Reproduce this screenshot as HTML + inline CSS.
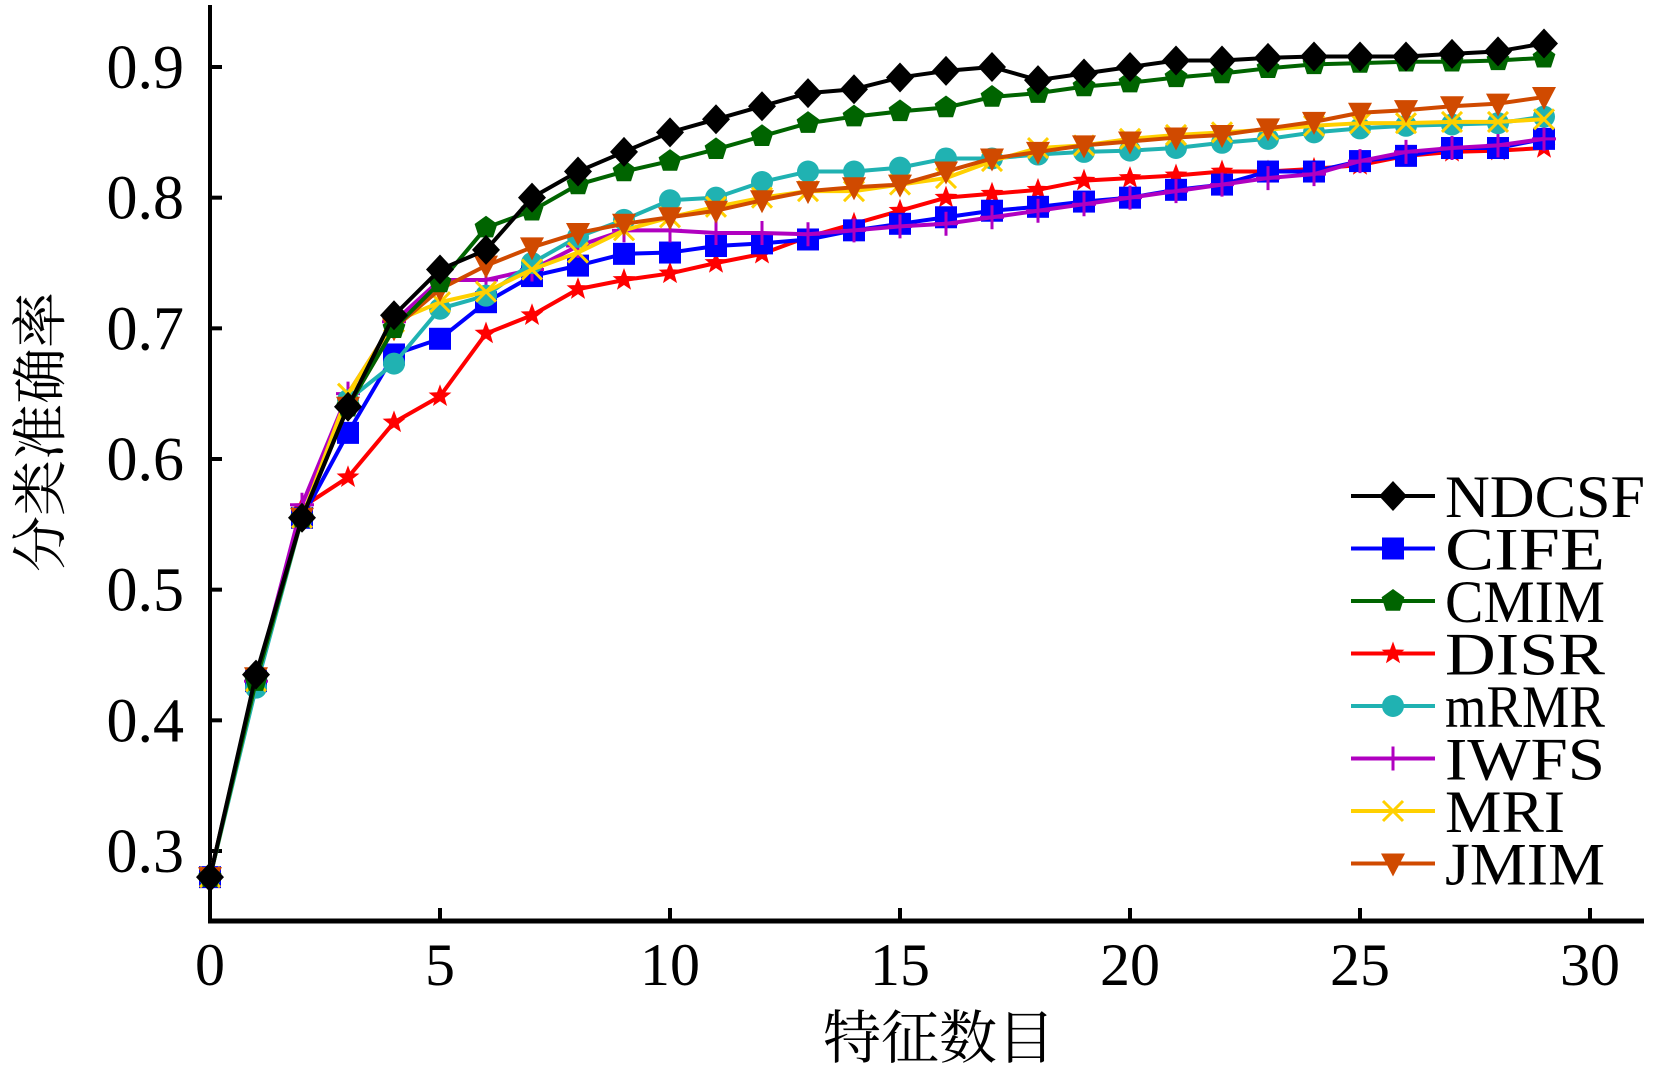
<!DOCTYPE html>
<html><head><meta charset="utf-8"><style>
html,body{margin:0;padding:0;background:#fff;}
svg{display:block;}
text{font-family:"Liberation Serif","Noto Serif CJK SC",serif;fill:#000;}
</style></head><body>
<svg id="chart" width="1656" height="1075" viewBox="0 0 1656 1075" xmlns="http://www.w3.org/2000/svg">
<g id="axes"></g>
<g id="series"></g>
<g id="legend"></g>
<text x="0" y="0" font-size="56" text-anchor="middle" transform="translate(60,432) rotate(-90)" style="font-family:'Liberation Serif','Noto Serif CJK SC',serif">分类准确率</text>
<text x="939" y="1058" font-size="58" text-anchor="middle" style="font-family:'Liberation Serif','Noto Serif CJK SC',serif">特征数目</text>
</svg>
<script>
const xTicks = [0,5,10,15,20,25,30];
const yTicks = [0.3,0.4,0.5,0.6,0.7,0.8,0.9];
const yTickLabels = ["0.3","0.4","0.5","0.6","0.7","0.8","0.9"];
const seriesNames = ["NDCSF","CIFE","CMIM","DISR","mRMR","IWFS","MRI","JMIM"];
const NDCSF = [0.28,0.435,0.555,0.64,0.71,0.745,0.76,0.80,0.82,0.835,0.85,0.86,0.87,0.88,0.883,0.892,0.897,0.90,0.89,0.895,0.90,0.905,0.905,0.907,0.908,0.908,0.908,0.91,0.912,0.918];
const CIFE = [0.28,0.43,0.555,0.62,0.68,0.692,0.72,0.74,0.748,0.757,0.758,0.763,0.765,0.768,0.775,0.78,0.785,0.79,0.793,0.797,0.80,0.806,0.81,0.82,0.82,0.828,0.832,0.838,0.838,0.845];
const CMIM = [0.28,0.43,0.555,0.64,0.70,0.735,0.777,0.79,0.81,0.82,0.828,0.837,0.847,0.857,0.862,0.866,0.869,0.877,0.88,0.885,0.888,0.892,0.895,0.899,0.902,0.903,0.904,0.904,0.905,0.907];
const DISR = [0.28,0.43,0.563,0.586,0.628,0.648,0.696,0.71,0.73,0.737,0.742,0.75,0.757,0.77,0.78,0.79,0.80,0.803,0.806,0.813,0.815,0.817,0.82,0.82,0.822,0.825,0.832,0.835,0.836,0.838];
const mRMR = [0.28,0.425,0.555,0.645,0.673,0.715,0.725,0.75,0.77,0.783,0.798,0.80,0.812,0.82,0.82,0.823,0.83,0.83,0.833,0.835,0.836,0.838,0.842,0.845,0.85,0.853,0.855,0.856,0.857,0.862];
const IWFS = [0.28,0.43,0.565,0.65,0.705,0.737,0.737,0.745,0.763,0.775,0.775,0.773,0.773,0.772,0.775,0.778,0.78,0.785,0.79,0.795,0.80,0.805,0.81,0.815,0.818,0.828,0.835,0.838,0.84,0.845];
const MRI = [0.28,0.43,0.555,0.65,0.705,0.72,0.728,0.745,0.758,0.775,0.785,0.793,0.80,0.805,0.805,0.81,0.815,0.828,0.838,0.84,0.845,0.848,0.85,0.852,0.855,0.857,0.857,0.858,0.858,0.86];
const JMIM = [0.28,0.433,0.555,0.64,0.70,0.73,0.748,0.762,0.773,0.78,0.785,0.79,0.798,0.805,0.808,0.81,0.82,0.83,0.835,0.84,0.843,0.846,0.848,0.853,0.858,0.865,0.867,0.87,0.872,0.877];

const NS = "http://www.w3.org/2000/svg";
const X0 = 210, X30 = 1590, Y03 = 851, Y09 = 67, AXY = 921;
function sx(v){ return X0 + (X30 - X0) * v / 30; }
function sy(v){ return Y03 + (Y09 - Y03) * (v - 0.3) / 0.6; }
function mk(tag, attrs, parent){ const e = document.createElementNS(NS, tag); for (const k in attrs) e.setAttribute(k, attrs[k]); parent.appendChild(e); return e; }

const axes = document.getElementById('axes');
let yl = mk('line', {x1:X0, y1:5, x2:X0, y2:AXY+2, stroke:'#000','stroke-width':4}, axes);


let xl = mk('line', {x1:X0-2, y1:AXY, x2:1644, y2:AXY, stroke:'#000','stroke-width':5}, axes);


yTicks.forEach((v, i) => {
  const t = mk('line', {x1:X0, y1:sy(v), x2:X0+12, y2:sy(v), stroke:'#000','stroke-width':4}, axes);
  
  
  const l = mk('text', {x:184, y:sy(v)+21, 'font-size':62, 'text-anchor':'end'}, axes);
  l.textContent = yTickLabels[i];
  
  
});
xTicks.forEach(v => {
  const t = mk('line', {x1:sx(v), y1:AXY, x2:sx(v), y2:AXY-13, stroke:'#000','stroke-width':4}, axes);
  
  
  const l = mk('text', {x:sx(v), y:985, 'font-size':60, 'text-anchor':'middle'}, axes);
  l.textContent = String(v);
  
  
});

const seriesData = [NDCSF, CIFE, CMIM, DISR, mRMR, IWFS, MRI, JMIM];
const colors = ['#000000','#0000ff','#006400','#ff0000','#20b2b2','#b000c0','#ffd000','#d04a00'];
const shapes = ['diamond','square','pentagon','star','circle','plus','cross','tri'];

function marker(g, shape, x, y, c, s){
  let e;
  if (shape === 'diamond') e = mk('polygon', {points:`${x},${y-15} ${x+14},${y} ${x},${y+15} ${x-14},${y}`, fill:c}, g);
  else if (shape === 'square') e = mk('rect', {x:x-11, y:y-11, width:22, height:22, fill:c}, g);
  else if (shape === 'circle') e = mk('circle', {cx:x, cy:y, r:11, fill:c}, g);
  else if (shape === 'pentagon') { let p=[]; for(let k=0;k<5;k++){const a=-Math.PI/2+k*2*Math.PI/5; p.push((x+12*Math.cos(a))+','+(y+12*Math.sin(a)));} e = mk('polygon', {points:p.join(' '), fill:c}, g); }
  else if (shape === 'star') { let p=[]; for(let k=0;k<10;k++){const a=-Math.PI/2+k*Math.PI/5; const r=k%2?5:12; p.push((x+r*Math.cos(a))+','+(y+r*Math.sin(a)));} e = mk('polygon', {points:p.join(' '), fill:c}, g); }
  else if (shape === 'plus') e = mk('path', {d:`M${x-12},${y}H${x+12}M${x},${y-12}V${y+12}`, stroke:c, 'stroke-width':3, fill:'none'}, g);
  else if (shape === 'cross') e = mk('path', {d:`M${x-10},${y-10}L${x+10},${y+10}M${x-10},${y+10}L${x+10},${y-10}`, stroke:c, 'stroke-width':3, fill:'none'}, g);
  else e = mk('polygon', {points:`${x-12},${y-10} ${x+12},${y-10} ${x},${y+13}`, fill:c}, g);
  return e;
}

const sg = document.getElementById('series');
const order = [3,1,5,4,6,7,2,0];
order.forEach(si => {
  const g = mk('g', {}, sg);
  
  
  const d = seriesData[si].map((v, i) => (i ? 'L' : 'M') + sx(i) + ',' + sy(v)).join('');
  const p = mk('path', {d:d, stroke:colors[si], 'stroke-width':4, fill:'none', 'stroke-linejoin':'round'}, g);
  
  
  seriesData[si].forEach((v, i) => {
    const m = marker(g, shapes[si], sx(i), sy(v), colors[si]);
    
    
  });
});

const lg = document.getElementById('legend');
seriesNames.forEach((n, i) => {
  const y = 496 + i * 52.5;
  const g = mk('g', {}, lg);
  
  
  mk('line', {x1:1351, y1:y, x2:1435, y2:y, stroke:colors[i], 'stroke-width':4}, g);
  marker(g, shapes[i], 1393, y, colors[i]);
  const t = mk('text', {x:1445, y:y+21, 'font-size':60, textLength:Math.round(n.length*40), lengthAdjust:'spacingAndGlyphs'}, g);
  t.textContent = n;
  
  
});
</script>
</body></html>
